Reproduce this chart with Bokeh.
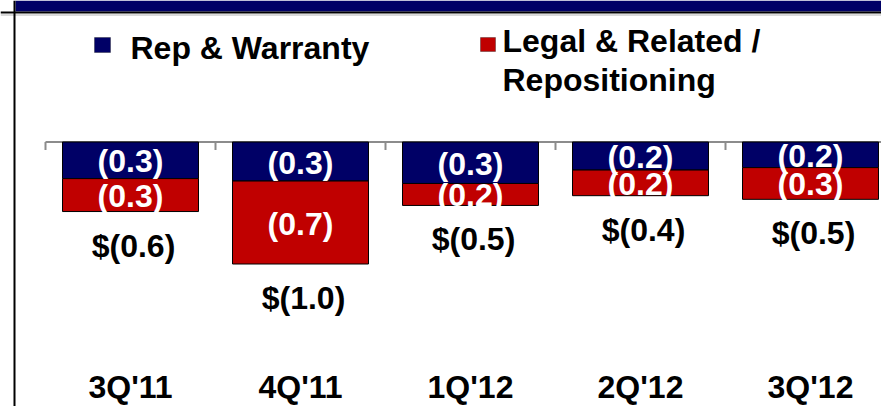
from bokeh.plotting import figure
from bokeh.models import ColumnDataSource, BoxAnnotation, Span, Label
from bokeh.core.properties import value
from bokeh.embed import file_html
from bokeh.resources import INLINE

# ---- data ($ billions) ----
quarters = ["3Q'11", "4Q'11", "1Q'12", "2Q'12", "3Q'12"]
rep_warranty = [-0.30, -0.32, -0.34, -0.23, -0.21]
legal_repositioning = [-0.27, -0.68, -0.18, -0.21, -0.26]
rep_labels = ["(0.3)", "(0.3)", "(0.3)", "(0.2)", "(0.2)"]
legal_labels = ["(0.3)", "(0.7)", "(0.2)", "(0.2)", "(0.3)"]
total_labels = ["$(0.6)", "$(1.0)", "$(0.5)", "$(0.4)", "$(0.5)"]

NAVY = "#000066"
RED = "#C00000"
FONT = "Liberation Sans"
FS = "32px"

W, H = 881, 406
PAGE_OFF = 0
X0_PX, UNIT_X = 45.0, 170.0     # pixel of first category boundary, px per category
Y0_PX, UNIT_Y = 141.5, 122.0    # pixel of zero line, px per $1B


def dx(px):
    return (px - X0_PX) / UNIT_X


def dy(py):
    return (Y0_PX - py) / UNIT_Y


p = figure(width=W, height=H,
           x_range=(dx(PAGE_OFF), dx(PAGE_OFF + W)),
           y_range=(dy(PAGE_OFF + H), dy(PAGE_OFF)),
           output_backend="svg", toolbar_location=None,
           x_axis_location=None, y_axis_location=None,
           min_border=0, outline_line_color=None,
           background_fill_color="white", border_fill_color="white")
for g in p.grid:
    g.visible = False

n = len(quarters)
xs = [i + 0.5 for i in range(n)]
rep_bottom = rep_warranty
legal_top = rep_warranty
legal_bottom = [r + l for r, l in zip(rep_warranty, legal_repositioning)]
rep_mid = [r / 2 for r in rep_warranty]
legal_mid = [(t + b) / 2 for t, b in zip(legal_top, legal_bottom)]

src = ColumnDataSource(dict(
    x=xs, q=quarters, zero=[0.0] * n,
    rep_bottom=rep_bottom, legal_top=legal_top, legal_bottom=legal_bottom,
    rep_mid=rep_mid, legal_mid=legal_mid,
    rep_lab=rep_labels, legal_lab=legal_labels, total_lab=total_labels,
    cat_y=[dy(386)] * n,
))

# header band and frame lines
p.add_layout(BoxAnnotation(left=dx(15), bottom=dy(11), fill_color=NAVY, fill_alpha=1, line_color=None))
p.add_layout(BoxAnnotation(bottom=dy(13), top=dy(11), fill_color="black", fill_alpha=1, line_color=None))
p.add_layout(Span(location=dy(14.5), dimension="width", line_color="#b4b4b4", line_width=1))
p.add_layout(BoxAnnotation(left=dx(13), right=dx(15), fill_color="black", fill_alpha=1, line_color=None))

# axis line and ticks
bounds = list(range(n + 1))
p.segment(x0=[bounds[0]], x1=[bounds[-1]], y0=[0], y1=[0], line_color="#8c8c8c", line_width=2)
p.segment(x0=bounds, x1=bounds, y0=[0] * len(bounds), y1=[-8 / UNIT_Y] * len(bounds),
          line_color="#8c8c8c", line_width=2)

# stacked bars
p.vbar(x="x", width=0.8, top="zero", bottom="rep_bottom", source=src,
       fill_color=NAVY, line_color="black", line_width=1)
p.vbar(x="x", width=0.8, top="legal_top", bottom="legal_bottom", source=src,
       fill_color=RED, line_color="black", line_width=1)

common = dict(text_font=value(FONT), text_font_style="bold", text_align="center",
              text_baseline="middle", text_font_size=FS, source=src)
p.text(x="x", y="rep_mid", text="rep_lab", text_color="white", y_offset=1, **common)
p.text(x="x", y="legal_mid", text="legal_lab", text_color="white", y_offset=1, **common)
p.text(x="x", y="legal_bottom", text="total_lab", text_color="black",
       y_offset=34, x_offset=3, **common)
p.text(x="x", y="cat_y", text="q", text_color="black", **common)

# legend
p.add_layout(BoxAnnotation(left=dx(94), right=dx(110), top=dy(37), bottom=dy(52),
                           fill_color=NAVY, fill_alpha=1, line_color="black", line_width=1))
p.add_layout(BoxAnnotation(left=dx(480), right=dx(495), top=dy(37), bottom=dy(51),
                           fill_color=RED, fill_alpha=1, line_color="black", line_width=1))
lab = dict(text_font=FONT, text_font_style="bold", text_font_size=FS,
           text_color="black", text_baseline="alphabetic", text_align="left")
p.add_layout(Label(x=dx(130), y=dy(47), text="Rep & Warranty", **lab))
p.add_layout(Label(x=dx(502), y=dy(40), text="Legal & Related /", **lab))
p.add_layout(Label(x=dx(502), y=dy(79), text="Repositioning", **lab))

open("out.html", "w").write(file_html(p, INLINE))
